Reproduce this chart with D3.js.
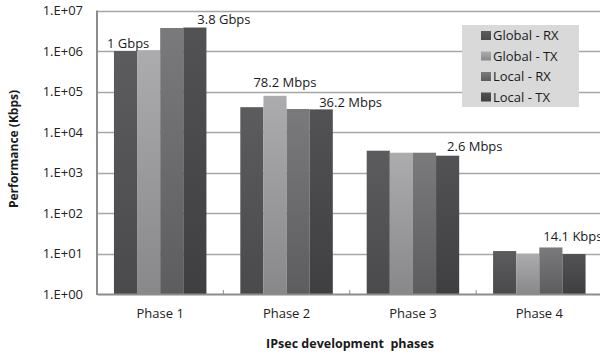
<!DOCTYPE html>
<html>
<head>
<meta charset="utf-8">
<script src="https://cdn.jsdelivr.net/npm/d3@7"></script>
<style>
  html, body { margin: 0; padding: 0; background: #fff; }
  svg { display: block; font-family: "Open Sans", sans-serif; }
</style>
</head>
<body>
<svg id="chart" width="600" height="355"></svg>
<script>
// Throughput per IPsec development phase, in Kbps
const phases = ["Phase 1", "Phase 2", "Phase 3", "Phase 4"];
const seriesNames = ["Global - RX", "Global - TX", "Local - RX", "Local - TX"];
const globalRx = [1.0e6, 41000, 3450, 11.5];
const globalTx = [1.05e6, 78200, 3080, 9.9];
const localRx  = [3.7e6, 37000, 3080, 14.1];
const localTx  = [3.8e6, 36200, 2600, 9.7];
const yTickValues = [1, 10, 100, 1e3, 1e4, 1e5, 1e6, 1e7];
// Bars whose value is written next to them: [phase, series]
const labelledBars = [
  ["Phase 1", "Global - RX"],
  ["Phase 1", "Local - TX"],
  ["Phase 2", "Global - TX"],
  ["Phase 2", "Local - TX"],
  ["Phase 3", "Local - TX"],
  ["Phase 4", "Local - RX"]
];

const seriesValues = [globalRx, globalTx, localRx, localTx];
const rows = [];
phases.forEach((p, i) => seriesNames.forEach((s, j) => rows.push({ phase: p, series: s, value: seriesValues[j][i] })));

// top / bottom shades of each series gradient
const shades = {
  "Global - RX": ["#5c5c5e", "#4a4a4c"],
  "Global - TX": ["#acacae", "#88888a"],
  "Local - RX":  ["#7a7a7c", "#5d5d5f"],
  "Local - TX":  ["#525254", "#3f3f41"]
};

const FONT = "'Open Sans', sans-serif";
const svg = d3.select("#chart");
const plot = { left: 97, right: 602.5, top: 10.5, bottom: 294 };

const x = d3.scaleBand().domain(phases).range([plot.left, plot.right]).paddingInner(0).paddingOuter(0);
const xs = d3.scaleBand().domain(seriesNames).range([0, x.bandwidth()]).paddingInner(0).paddingOuter(0.733);
const y = d3.scaleLog().domain([1, 1e7]).range([plot.bottom, plot.top]);

// gradients
const defs = svg.append("defs");
seriesNames.forEach((s, i) => {
  const g = defs.append("linearGradient").attr("id", "grad" + i)
    .attr("x1", 0).attr("y1", 0).attr("x2", 0).attr("y2", 1);
  g.append("stop").attr("offset", "0%").attr("stop-color", shades[s][0]);
  g.append("stop").attr("offset", "100%").attr("stop-color", shades[s][1]);
});
const gradOf = s => "url(#grad" + seriesNames.indexOf(s) + ")";

// horizontal gridlines
svg.append("g").selectAll("line").data(yTickValues.slice(1)).join("line")
  .attr("x1", plot.left).attr("x2", 600)
  .attr("y1", d => Math.round(y(d)) + 0.5).attr("y2", d => Math.round(y(d)) + 0.5)
  .attr("stroke", "#a6a6a6").attr("stroke-width", 1.3);

// y axis
const yAxis = d3.axisLeft(y).tickValues(yTickValues).tickSize(0).tickPadding(14)
  .tickFormat(d => "1.E+" + String(Math.round(Math.log10(d))).padStart(2, "0"));
const yg = svg.append("g").attr("transform", `translate(${plot.left},0)`).call(yAxis);
yg.select(".domain").remove();
yg.selectAll("text").attr("font-size", 13).attr("fill", "#222").attr("font-family", FONT);

// bars
svg.append("g").selectAll("rect").data(rows).join("rect")
  .attr("x", d => x(d.phase) + xs(d.series))
  .attr("width", xs.bandwidth())
  .attr("y", d => y(d.value))
  .attr("height", d => plot.bottom - y(d.value))
  .attr("fill", d => gradOf(d.series));

// axis lines
svg.append("line").attr("x1", plot.left).attr("x2", plot.left)
  .attr("y1", plot.top).attr("y2", plot.bottom + 1)
  .attr("stroke", "#8c8c8c").attr("stroke-width", 2);
const xAxis = d3.axisBottom(x).tickSize(0).tickPadding(15);
const xg = svg.append("g").attr("transform", `translate(0,${plot.bottom})`).call(xAxis);
xg.select(".domain").attr("stroke", "#8c8c8c").attr("stroke-width", 2);
xg.selectAll("text").attr("font-size", 13).attr("fill", "#222").attr("font-family", FONT);
// category separator ticks (pointing into plot)
svg.append("g").selectAll("line").data(phases.slice(1)).join("line")
  .attr("x1", d => x(d)).attr("x2", d => x(d))
  .attr("y1", plot.bottom - 4).attr("y2", plot.bottom)
  .attr("stroke", "#8c8c8c").attr("stroke-width", 1);

// value labels (the last one runs past the right edge of the chart)
const fmt = v => v >= 1e6 ? +(v / 1e6).toFixed(1) + " Gbps"
  : v >= 1e3 ? +(v / 1e3).toFixed(1) + " Mbps" : +v.toFixed(1) + " Kbps";
const labelOffsets = [[-7, -8], [14, -8.5], [-10, -13.5], [9.5, -7], [11, -9], [4, -11.5]];
svg.append("g").selectAll("text").data(labelledBars).join("text")
  .attr("x", (d, i) => x(d[0]) + xs(d[1]) + labelOffsets[i][0])
  .attr("y", (d, i) => y(rows.find(r => r.phase === d[0] && r.series === d[1]).value) + labelOffsets[i][1])
  .attr("dy", "0.35em")
  .attr("font-size", 13).attr("fill", "#1a1a1a")
  .text(d => fmt(rows.find(r => r.phase === d[0] && r.series === d[1]).value));

// legend
const lg = svg.append("g").attr("transform", "translate(462,25)");
lg.append("rect").attr("width", 117).attr("height", 82).attr("fill", "#d9d9d9");
const li = lg.selectAll("g").data(seriesNames).join("g")
  .attr("transform", (d, i) => `translate(0,${10.5 + i * 20.5})`);
li.append("rect").attr("x", 19).attr("y", -4.5).attr("width", 10).attr("height", 9)
  .attr("fill", d => gradOf(d));
li.append("text").attr("x", 31).attr("dy", "0.35em").attr("font-size", 13).attr("fill", "#1a1a1a")
  .text(d => d);

// axis titles
svg.append("text").attr("x", 350).attr("y", 344).attr("dy", "0.35em")
  .attr("text-anchor", "middle").attr("font-size", 12.5).attr("font-weight", "bold").attr("fill", "#1a1a1a")
  .attr("xml:space", "preserve").style("white-space", "pre")
  .text("IPsec development  phases");
svg.append("text").attr("transform", "translate(14,149) rotate(-90)").attr("dy", "0.35em")
  .attr("text-anchor", "middle").attr("font-size", 12).attr("font-weight", "bold").attr("fill", "#1a1a1a")
  .text("Performance (Kbps)");
</script>
</body>
</html>
